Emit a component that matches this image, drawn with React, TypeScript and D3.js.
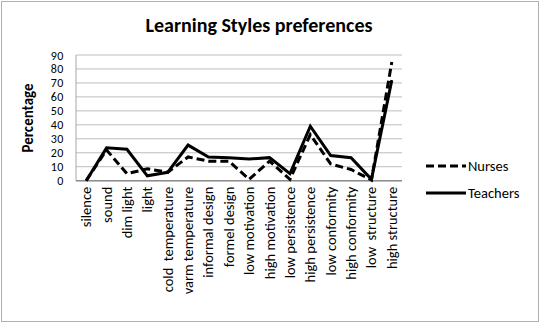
import { useEffect, useRef } from 'react'
import * as d3 from 'd3'

const categories = [
  'silence',
  'sound',
  'dim light',
  'light',
  'cold  temperature',
  'varm temperature',
  'informal design',
  'formel design',
  'low motivation',
  'high motivation',
  'low persistence',
  'high persistence',
  'low conformity',
  'high conformity',
  'low  structure',
  'high structure',
]
const nurses = [0, 22, 5, 8.5, 6, 17, 14, 14, 1, 14, 1, 33, 12, 8, 0.5, 85]
const teachers = [0, 23.5, 22.5, 3.5, 6, 25.5, 17, 16.5, 15.5, 16.5, 5, 39, 18, 16.5, 1, 72]
const yTicks = [0, 10, 20, 30, 40, 50, 60, 70, 80, 90]

const W = 542
const H = 324
const FONT = "Carlito, Calibri, 'Noto Sans', sans-serif"

export default function App() {
  const ref = useRef<SVGSVGElement | null>(null)

  useEffect(() => {
    const svg = d3.select(ref.current)
    svg.selectAll('*').remove()
    svg.attr('width', W).attr('height', H).style('font-family', FONT)

    // chart frame
    svg.append('rect')
      .attr('x', 1.5).attr('y', 1.5)
      .attr('width', 537).attr('height', 320)
      .attr('fill', '#fff').attr('stroke', '#b0b0b0')

    const left = 76, right = 402, top = 55, bottom = 180.7
    const x = d3.scaleBand<string>().domain(categories).range([left, right])
    const y = d3.scaleLinear().domain([0, 90]).range([bottom, top])
    const cx = (i: number) => (x(categories[i]) ?? 0) + x.bandwidth() / 2

    // gridlines
    svg.append('g')
      .selectAll('line')
      .data(yTicks)
      .enter()
      .append('line')
      .attr('x1', left).attr('x2', right)
      .attr('y1', (d) => y(d)).attr('y2', (d) => y(d))
      .attr('stroke', '#bdbdbd').attr('stroke-width', 1)

    // y axis line
    svg.append('line')
      .attr('x1', left).attr('x2', left)
      .attr('y1', top).attr('y2', bottom)
      .attr('stroke', '#a6a6a6')

    // x axis line
    svg.append('line')
      .attr('x1', left).attr('x2', right)
      .attr('y1', bottom).attr('y2', bottom)
      .attr('stroke', '#8c8c8c').attr('stroke-width', 1.5)

    // y tick labels
    svg.append('g')
      .selectAll('text')
      .data(yTicks)
      .enter()
      .append('text')
      .attr('x', 64)
      .attr('y', (d) => y(d) + 4.5)
      .attr('text-anchor', 'end')
      .attr('fill', '#000')
      .style('font-size', '12px')
      .style('letter-spacing', '0.6px')
      .text((d) => d)

    // x tick labels
    svg.append('g')
      .selectAll('text')
      .data(categories)
      .enter()
      .append('text')
      .attr('transform', (_d, i) => `translate(${cx(i) + 5},${bottom + 6}) rotate(-90)`)
      .attr('text-anchor', 'end')
      .attr('fill', '#000')
      .style('font-size', '14.5px')
      .style('white-space', 'pre')
      .text((d) => d)

    // title
    svg.append('text')
      .attr('x', 259).attr('y', 32)
      .attr('text-anchor', 'middle')
      .attr('fill', '#000')
      .style('font-size', '20px').style('font-weight', 'bold')
      .text('Learning Styles preferences')

    // y axis title
    svg.append('text')
      .attr('transform', `translate(33,118) rotate(-90)`)
      .attr('text-anchor', 'middle')
      .attr('fill', '#000')
      .style('font-size', '15px').style('font-weight', 'bold')
      .text('Percentage')

    const line = d3.line<number>()
      .x((_d, i) => cx(i))
      .y((d) => y(d))

    svg.append('path')
      .datum(nurses)
      .attr('fill', 'none')
      .attr('stroke', '#000')
      .attr('stroke-width', 3)
      .attr('stroke-dasharray', '8 4')
      .attr('d', line as any)

    svg.append('path')
      .datum(teachers)
      .attr('fill', 'none')
      .attr('stroke', '#000')
      .attr('stroke-width', 3)
      .attr('d', line as any)

    // legend
    const legend = [
      { name: 'Nurses', dash: '8 4', y: 166 },
      { name: 'Teachers', dash: null, y: 193 },
    ]
    const lg = svg.append('g')
    legend.forEach((l) => {
      lg.append('line')
        .attr('x1', 426).attr('x2', 466)
        .attr('y1', l.y).attr('y2', l.y)
        .attr('stroke', '#000').attr('stroke-width', 3)
        .attr('stroke-dasharray', l.dash)
      lg.append('text')
        .attr('x', 468).attr('y', l.y + 5)
        .attr('fill', '#000')
        .style('font-size', '14.5px')
        .text(l.name)
    })
  }, [])

  return <svg ref={ref} style={{ position: 'absolute', left: 0, top: 0 }} />
}
